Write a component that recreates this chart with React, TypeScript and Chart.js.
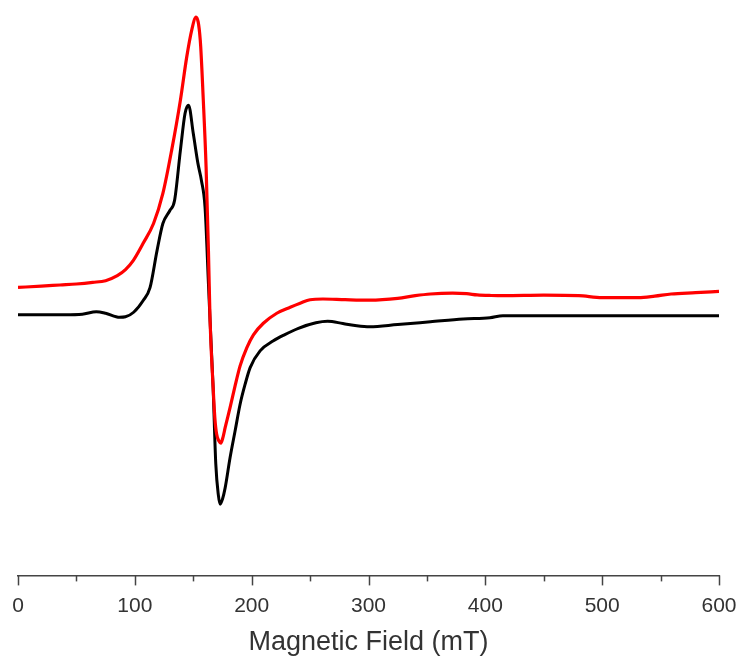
import React, { useEffect, useRef } from "react";
import { Chart, registerables } from "chart.js";

Chart.register(...registerables);

// Magnetic field (mT) and EPR intensity (a.u.) — black trace
const fieldBlack = [0, 20, 40, 55, 67, 75, 87, 92, 99, 107, 113, 119, 124, 130, 134, 139, 143, 146, 150, 154, 157, 160.1, 163, 164.4, 167, 169.3, 171.5, 173, 175, 177.3, 181.5, 185.8, 190.1, 194.4, 198.7, 207.2, 218.6, 228, 240, 255, 265, 278, 290, 301, 325, 353, 381, 404, 415, 450, 500, 550, 600];
const intensityBlack = [0, 0, 0, 0.5, 3, 1.5, -2.5, -2, 2.5, 14, 27, 64, 91, 104, 114, 164, 201, 209, 181, 151, 134, 107, 31, -6, -72.7, -149, -180, -189, -184, -172.7, -142.7, -116, -89.3, -69.3, -52.7, -36, -26, -20, -13.5, -8, -6.5, -8.7, -11, -12, -9.7, -7, -4.3, -3, -1, -1, -1, -1, -1];

// Red trace
const fieldRed = [0, 20, 36, 50, 64, 75, 85, 92, 98.6, 107, 116, 124, 131.5, 139, 144.4, 148.7, 152.4, 156, 158.6, 161, 163, 164.4, 167, 168.5, 170, 172, 173.6, 175.5, 177.3, 181.5, 185.8, 190.1, 195.8, 201.5, 210, 221.5, 233, 241.5, 250, 261, 280, 301, 325, 340, 353, 372, 384, 393, 405, 416, 450, 480, 500, 531, 545, 559, 580, 600];
const intensityRed = [27.3, 28.5, 29.7, 30.7, 32.3, 34, 39, 45, 54, 71, 91, 121, 164, 214, 257, 284, 297, 274, 214, 147, 64, -6, -72, -103, -119, -126, -128, -122, -112.7, -92.7, -71, -51, -33, -20, -8.5, 1.5, 7.5, 11.5, 15, 15.7, 15, 14.5, 16.3, 19, 20.7, 21.5, 21, 19.8, 19.2, 19, 19.5, 19, 17, 17, 18.5, 20.7, 22, 23.3];

const xTicksMajor = [0, 100, 200, 300, 400, 500, 600];
const xTicksMinor = [50, 150, 250, 350, 450, 550];
const xTitle = "Magnetic Field (mT)";

const toPoints = (xs: number[], ys: number[]) => xs.map((x, i) => ({ x, y: ys[i] }));

const axisTicks = {
  id: "axisTicks",
  afterDraw(chart: any) {
    const sx = chart.scales.x;
    const ctx = chart.ctx;
    const y0 = chart.chartArea.bottom;
    ctx.save();
    ctx.strokeStyle = "#444";
    ctx.lineWidth = 1.5;
    const draw = (vals: number[], len: number) => {
      for (const v of vals) {
        const px = Math.round(sx.getPixelForValue(v)) + 0.5;
        ctx.beginPath();
        ctx.moveTo(px, y0);
        ctx.lineTo(px, y0 + len);
        ctx.stroke();
      }
    };
    draw(xTicksMajor, 10);
    draw(xTicksMinor, 6);
    ctx.restore();
  },
};

export default function App() {
  const ref = useRef<HTMLCanvasElement | null>(null);
  useEffect(() => {
    if (!ref.current) return;
    const chart = new Chart(ref.current, {
      type: "line",
      data: {
        datasets: [
          {
            data: toPoints(fieldRed, intensityRed),
            borderColor: "#ff0000",
            borderWidth: 3.2,
            pointRadius: 0,
            cubicInterpolationMode: "monotone",
            fill: false,
          },
          {
            data: toPoints(fieldBlack, intensityBlack),
            borderColor: "#000000",
            borderWidth: 3,
            pointRadius: 0,
            cubicInterpolationMode: "monotone",
            fill: false,
          },
        ],
      },
      options: {
        responsive: false,
        animation: false,
        devicePixelRatio: 1,
        layout: { padding: { left: 18, right: 23, top: 10, bottom: 0 } },
        plugins: {
          legend: { display: false },
          tooltip: { enabled: false },
        },
        scales: {
          x: {
            type: "linear",
            min: 0,
            max: 600,
            afterBuildTicks: (scale: any) => {
              scale.ticks = xTicksMajor.map((v) => ({ value: v }));
            },
            ticks: {
              color: "#333",
              font: { family: "Liberation Sans, Arial, sans-serif", size: 21 },
              padding: 2,
              maxRotation: 0,
              autoSkip: false,
            },
            grid: {
              drawOnChartArea: false,
              drawTicks: true,
              tickLength: 16,
              tickColor: "rgba(0,0,0,0)",
            },
            border: { display: true, color: "#444", width: 1.5 },
            title: {
              display: true,
              text: xTitle,
              color: "#333",
              font: { family: "Liberation Sans, Arial, sans-serif", size: 27 },
              padding: { top: 6, bottom: 5 },
            },
          },
          y: {
            type: "linear",
            display: false,
            min: -260,
            max: 304,
          },
        },
      },
      plugins: [axisTicks],
    });
    return () => chart.destroy();
  }, []);
  return (
    <div style={{ position: "absolute", left: 0, top: 0, width: 742, height: 664, background: "#fff" }}>
      <canvas ref={ref} width={742} height={664} style={{ width: 742, height: 664 }} />
    </div>
  );
}
